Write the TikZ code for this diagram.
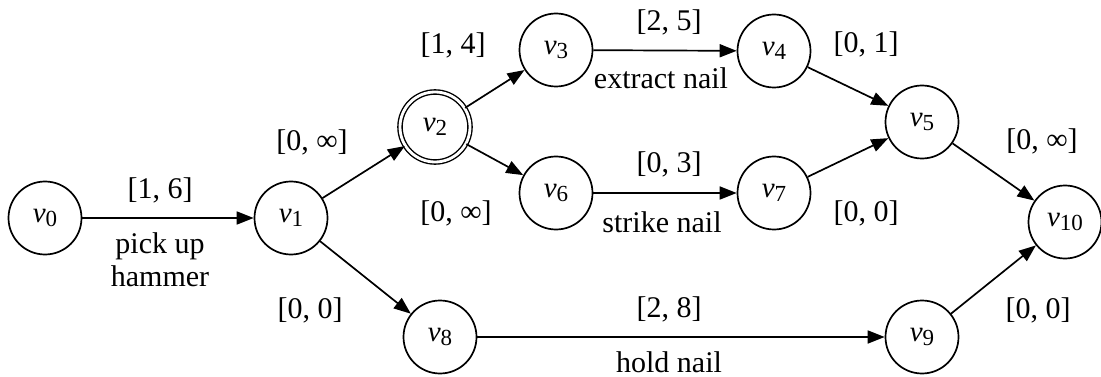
\documentclass[tikz,border=0pt]{standalone}
\usepackage{fontspec}
\setmainfont{Liberation Serif}
\usetikzlibrary{arrows.meta}
\newcommand\vlab[1]{\textit{v}\raisebox{-0.28ex}{\fontsize{23}{25}\selectfont #1}}
\begin{document}
\begin{tikzpicture}[x=1pt,y=-1pt,
  vert/.style={draw,circle,minimum size=73pt,inner sep=0pt,line width=1.7pt,font=\fontsize{29}{32}\selectfont},
  dvert/.style={vert,double,double distance=2.8pt,line width=1.4pt,minimum size=70pt},
  arr/.style={line width=1.7pt,-{Triangle[length=17pt,width=13pt]}},
  lab/.style={font=\fontsize{30}{33}\selectfont,inner sep=0pt,align=center}]
\useasboundingbox (0,0) rectangle (1101,377);
\node[vert] (v0) at (45,218) {\vlab{0}};
\node[vert] (v1) at (291,218) {\vlab{1}};
\node[dvert] (v2) at (435,127) {\vlab{2}};
\node[vert] (v3) at (556,50) {\vlab{3}};
\node[vert] (v4) at (774,51) {\vlab{4}};
\node[vert] (v5) at (922,122) {\vlab{5}};
\node[vert] (v6) at (556,193) {\vlab{6}};
\node[vert] (v7) at (774,193) {\vlab{7}};
\node[vert] (v8) at (440,337) {\vlab{8}};
\node[vert] (v9) at (922,337) {\vlab{9}};
\node[vert] (v10) at (1065,222) {\vlab{10}};
\draw[arr] (v0) -- (v1);
\draw[arr] (v1) -- (v2);
\draw[arr] (v1) -- (v8);
\draw[arr] (v2) -- (v3);
\draw[arr] (v2) -- (v6);
\draw[arr] (v3) -- (v4);
\draw[arr] (v6) -- (v7);
\draw[arr] (v4) -- (v5);
\draw[arr] (v7) -- (v5);
\draw[arr] (v5) -- (v10);
\draw[arr] (v8) -- (v9);
\draw[arr] (v9) -- (v10);
\node[lab] (l01) at (160,190) {[1, 6]};
\node[lab] (t01) at (160,260) {pick up\\hammer};
\node[lab] (l12) at (312,142) {[0, ∞]};
\node[lab] (l18) at (310,310) {[0, 0]};
\node[lab] (l23) at (453,45) {[1, 4]};
\node[lab] (l26) at (456,213) {[0, ∞]};
\node[lab] (l34) at (669,22) {[2, 5]};
\node[lab] (t34) at (661,78) {extract nail};
\node[lab] (l67) at (669,164) {[0, 3]};
\node[lab] (t67) at (662,222) {strike nail};
\node[lab] (l45) at (866,44) {[0, 1]};
\node[lab] (l75) at (866,213) {[0, 0]};
\node[lab] (l510) at (1042,141) {[0, ∞]};
\node[lab] (l910) at (1038,310) {[0, 0]};
\node[lab] (l89) at (669,309) {[2, 8]};
\node[lab] (t89) at (669,362) {hold nail};
\end{tikzpicture}
\end{document}
